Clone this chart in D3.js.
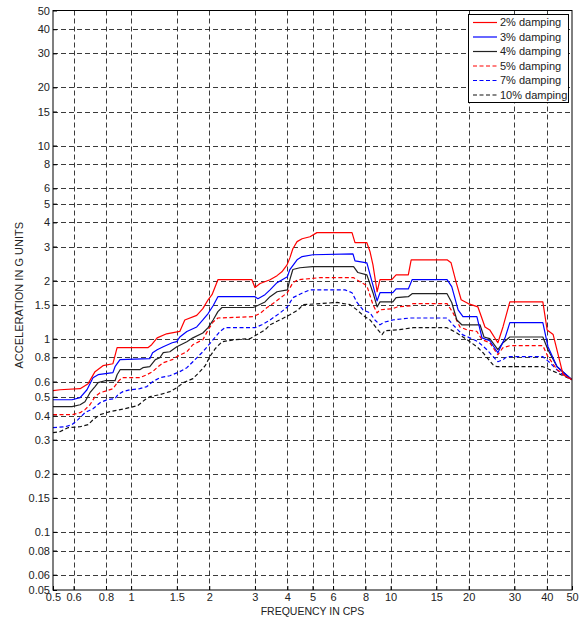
<!DOCTYPE html>
<html>
<head>
<meta charset="utf-8">
<script src="https://cdn.jsdelivr.net/npm/d3@7"></script>
<style>
  html, body { margin: 0; padding: 0; background: #fff; }
  svg { display: block; }
  text { font-family: "Liberation Sans", Arial, sans-serif; }
</style>
</head>
<body>
<svg id="chart" width="582" height="621"></svg>
<script>
// ---- tick labels ----
const xTicks = [0.5, 0.6, 0.8, 1, 1.5, 2, 3, 4, 5, 6, 8, 10, 15, 20, 30, 40, 50];
const yTicks = [0.05, 0.06, 0.08, 0.1, 0.15, 0.2, 0.3, 0.4, 0.5, 0.6, 0.8, 1, 1.5, 2, 3, 4, 5, 6, 8, 10, 15, 20, 30, 40, 50];

// ---- series (frequency in cps, acceleration in g) ----
const seriesNames = ["2% damping", "3% damping", "4% damping", "5% damping", "7% damping", "10% damping"];

const freq2 = [0.5,0.532,0.636,0.683,0.726,0.779,0.851,0.883,1.16,1.20,1.26,1.37,1.54,1.61,1.79,1.89,1.98,2.05,2.16,2.92,3.0,3.14,3.43,3.65,3.81,3.99,4.09,4.2,4.36,4.56,4.89,5.2,7.1,7.29,8.1,8.33,8.55,8.87,9.1,10.1,10.5,11.7,12.0,16.5,17.1,17.9,18.7,19.9,21.7,23.1,24.1,25.9,27.1,28.8,38.6,40.1,42.3,46.2,50];
const acc2  = [0.538,0.544,0.551,0.585,0.675,0.725,0.742,0.898,0.898,0.931,1.01,1.06,1.09,1.25,1.32,1.43,1.59,1.69,2.02,2.02,1.84,1.93,2.02,2.12,2.22,2.41,2.62,2.92,3.18,3.29,3.37,3.54,3.54,3.14,3.14,2.82,2.41,1.75,2.02,2.02,2.14,2.14,2.56,2.56,2.47,1.95,1.59,1.52,1.46,1.15,1.11,0.953,1.15,1.55,1.55,1.11,1.05,0.651,0.613];

const freq3 = [0.5,0.592,0.636,0.676,0.713,0.746,0.851,0.867,0.906,1.18,1.21,1.26,1.33,1.44,1.50,1.54,1.64,1.79,1.89,1.98,2.07,2.16,3.0,3.08,3.28,3.43,3.65,4.0,4.09,4.36,4.56,5.02,7.16,7.29,8.1,8.48,8.87,9.1,10.2,10.5,11.7,12.1,16.5,17.2,18.2,19.0,21.5,22.5,24.1,25.9,27.6,28.8,38.6,40.4,43.8,50];
const acc3  = [0.483,0.483,0.495,0.544,0.628,0.651,0.667,0.716,0.779,0.788,0.846,0.877,0.909,0.953,0.965,1.02,1.09,1.15,1.25,1.35,1.48,1.65,1.65,1.61,1.69,1.79,1.95,2.09,2.28,2.56,2.66,2.72,2.75,2.53,2.47,1.97,1.57,1.73,1.73,1.81,1.81,2.02,2.02,1.86,1.41,1.30,1.30,1.01,0.976,0.846,1.01,1.21,1.21,0.909,0.716,0.613];

const freq4 = [0.5,0.592,0.636,0.664,0.694,0.726,0.746,0.793,0.867,0.883,0.907,1.08,1.11,1.18,1.24,1.29,1.33,1.41,1.50,1.64,1.73,1.89,1.98,2.07,2.16,2.24,2.95,3.06,3.28,3.43,3.65,4.0,4.09,4.2,4.47,5.0,7.2,7.48,8.1,8.55,8.87,9.1,10.2,10.5,11.7,12.1,16.5,17.2,18.0,18.8,22.1,22.9,24.1,25.9,27.1,28.8,38.6,40.4,43.8,50];
const acc4  = [0.445,0.445,0.455,0.472,0.525,0.565,0.592,0.606,0.606,0.651,0.691,0.691,0.708,0.716,0.779,0.797,0.846,0.856,0.909,0.965,1.01,1.07,1.14,1.25,1.38,1.45,1.45,1.48,1.55,1.65,1.75,1.79,2.02,2.28,2.33,2.36,2.36,2.20,2.14,1.73,1.46,1.55,1.55,1.63,1.65,1.71,1.71,1.54,1.25,1.18,1.18,1.02,1.0,0.877,0.953,1.02,1.02,0.877,0.716,0.613];

const freq5 = [0.5,0.592,0.636,0.664,0.694,0.726,0.759,0.807,0.851,0.89,0.922,1.08,1.15,1.21,1.27,1.33,1.44,1.50,1.64,1.73,1.89,1.98,2.07,2.16,2.95,3.14,3.34,3.52,3.68,4.0,4.2,4.4,5.35,7.2,7.62,8.1,8.55,8.87,9.1,10.2,10.6,11.9,12.2,16.5,17.4,18.5,19.7,21.5,22.5,24.1,25.9,27.1,28.8,38.6,40.4,43.8,50];
const acc5  = [0.404,0.404,0.414,0.429,0.455,0.501,0.525,0.538,0.551,0.599,0.628,0.628,0.651,0.675,0.716,0.751,0.779,0.807,0.856,0.931,0.988,1.11,1.22,1.28,1.30,1.35,1.45,1.52,1.59,1.73,1.95,2.02,2.07,2.07,1.97,1.88,1.50,1.36,1.41,1.43,1.46,1.48,1.52,1.52,1.36,1.15,1.11,1.09,0.988,0.953,0.826,0.898,0.92,0.92,0.807,0.691,0.613];

const freq7 = [0.5,0.556,0.592,0.624,0.664,0.713,0.759,0.807,0.867,0.89,0.93,0.99,1.08,1.15,1.21,1.29,1.41,1.54,1.64,1.73,1.89,1.98,2.07,2.20,2.30,3.0,3.19,3.43,3.75,4.0,4.2,4.6,4.9,6.67,7.1,7.42,7.83,8.33,8.7,9.1,9.5,10.2,11.9,16.5,17.4,18.9,20.2,21.7,23.5,25.9,27.1,28.1,38.6,41.1,44.9,50];
const acc7  = [0.346,0.350,0.359,0.381,0.414,0.434,0.466,0.483,0.489,0.513,0.532,0.544,0.551,0.565,0.599,0.628,0.643,0.675,0.708,0.760,0.856,0.92,0.988,1.09,1.14,1.14,1.18,1.25,1.36,1.46,1.63,1.73,1.79,1.79,1.73,1.54,1.41,1.36,1.25,1.18,1.22,1.25,1.28,1.28,1.18,1.05,1.01,0.965,0.877,0.760,0.779,0.807,0.807,0.751,0.667,0.613];

const freq10 = [0.5,0.531,0.571,0.636,0.683,0.714,0.758,0.829,0.947,1.06,1.13,1.18,1.29,1.41,1.50,1.59,1.73,1.84,1.93,2.01,2.11,2.24,2.51,2.87,3.06,3.28,3.43,3.74,4.09,4.4,4.6,6.22,6.98,7.42,7.83,8.33,8.94,9.27,9.5,10.6,12.2,16.5,18.0,19.7,21.5,22.7,24.8,25.7,38.6,41.1,50];
const acc10  = [0.326,0.330,0.346,0.350,0.359,0.381,0.404,0.419,0.434,0.450,0.483,0.501,0.513,0.532,0.557,0.592,0.621,0.675,0.725,0.807,0.888,0.965,0.988,1.0,1.05,1.11,1.18,1.25,1.33,1.41,1.50,1.54,1.50,1.41,1.32,1.25,1.11,1.05,1.10,1.11,1.14,1.14,1.07,0.988,0.909,0.846,0.733,0.716,0.716,0.691,0.613];

const seriesFreqs = [freq2, freq3, freq4, freq5, freq7, freq10];
const seriesAccs  = [acc2, acc3, acc4, acc5, acc7, acc10];
const seriesColors = ["#ff0000", "#0000ff", "#222222", "#ff0000", "#0000ff", "#111111"];
const seriesDash   = [null, null, null, "4,2.5", "4,2.5", "4,2.5"];

// ---- layout ----
const L = 53, R = 572, T = 10.5, B = 590;
const svg = d3.select("#chart");

const x = d3.scaleLog().domain([0.5, 50]).range([L, R]);
const y = d3.scaleLog().domain([0.05, 50]).range([B, T]);

// grid
const grid = svg.append("g").attr("stroke", "#000").attr("stroke-width", 0.9)
  .attr("stroke-dasharray", "5,3").attr("opacity", 0.85);
grid.selectAll("line.vx").data(xTicks.slice(1, -1)).join("line")
  .attr("x1", d => Math.round(x(d)) + 0.5).attr("x2", d => Math.round(x(d)) + 0.5)
  .attr("y1", T).attr("y2", B);
grid.selectAll("line.hy").data(yTicks.slice(1, -1)).join("line")
  .attr("y1", d => Math.round(y(d)) + 0.5).attr("y2", d => Math.round(y(d)) + 0.5)
  .attr("x1", L).attr("x2", R);

// axes (labels)
const xAxis = d3.axisBottom(x).tickValues(xTicks).tickFormat(d => String(d)).tickSize(4).tickPadding(3);
const yAxis = d3.axisLeft(y).tickValues(yTicks).tickFormat(d => String(d)).tickSize(4).tickPadding(3);

const gx = svg.append("g").attr("transform", `translate(0,${B})`).call(xAxis);
gx.select(".domain").remove();
gx.selectAll(".tick line").attr("y2", -4).attr("stroke", "#000");
gx.selectAll(".tick text").attr("font-size", 11).attr("fill", "#222").attr("y", 3);

const gy = svg.append("g").attr("transform", `translate(${L},0)`).call(yAxis);
gy.select(".domain").remove();
gy.selectAll(".tick line").attr("x2", 4).attr("stroke", "#000");
gy.selectAll(".tick text").attr("font-size", 11).attr("fill", "#222").attr("x", -3);

// curves
const clip = svg.append("clipPath").attr("id", "plotclip").append("rect")
  .attr("x", L).attr("y", T).attr("width", R - L).attr("height", B - T);

const line = d3.line().x(d => x(d[0])).y(d => y(d[1]));
const curves = svg.append("g").attr("clip-path", "url(#plotclip)");
for (let i = seriesNames.length - 1; i >= 0; i--) {
  const pts = seriesFreqs[i].map((f, k) => [f, seriesAccs[i][k]]);
  curves.append("path").datum(pts)
    .attr("d", line)
    .attr("fill", "none")
    .attr("stroke", seriesColors[i])
    .attr("stroke-width", 1.2)
    .attr("stroke-linejoin", "round")
    .attr("stroke-dasharray", seriesDash[i]);
}

// frame
svg.append("rect").attr("x", L).attr("y", T).attr("width", R - L).attr("height", B - T)
  .attr("fill", "none").attr("stroke", "#000").attr("stroke-width", 1);

// axis titles
svg.append("text").attr("x", (L + R) / 2).attr("y", 615).attr("text-anchor", "middle")
  .attr("font-size", 10.5).attr("fill", "#222").text("FREQUENCY IN CPS");
svg.append("text").attr("transform", `translate(23,${(T + B) / 2 - 5}) rotate(-90)`)
  .attr("text-anchor", "middle").attr("font-size", 11).attr("fill", "#222")
  .text("ACCELERATION IN G UNITS");

// legend
const lg = svg.append("g");
lg.append("rect").attr("x", 468.5).attr("y", 14.5).attr("width", 100).attr("height", 88)
  .attr("fill", "#fff").attr("stroke", "#000").attr("stroke-width", 1);
seriesNames.forEach((name, i) => {
  const yy = 22.5 + i * 14.5;
  lg.append("line").attr("x1", 473).attr("x2", 497).attr("y1", yy).attr("y2", yy)
    .attr("stroke", seriesColors[i]).attr("stroke-width", 1.2)
    .attr("stroke-dasharray", seriesDash[i]);
  lg.append("text").attr("x", 500).attr("y", yy).attr("dy", "0.35em")
    .attr("font-size", 11).attr("fill", "#222").text(name);
});
</script>
</body>
</html>
